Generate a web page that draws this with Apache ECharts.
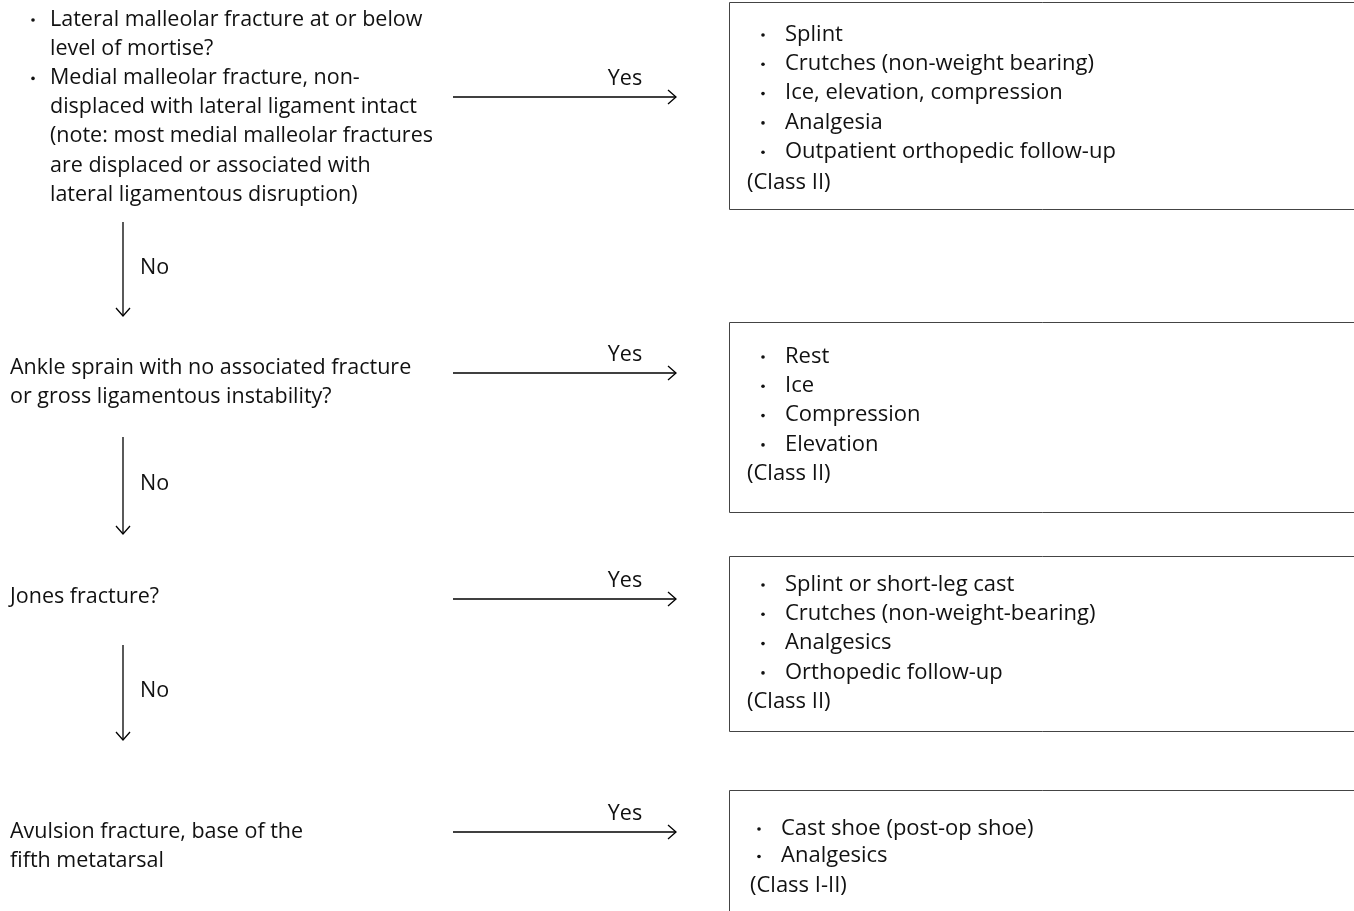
<!DOCTYPE html>
<html><head><meta charset="utf-8">
<script src="https://cdn.jsdelivr.net/npm/echarts@6/dist/echarts.min.js"></script>
<style>html,body{margin:0;padding:0;background:#fff}#c{width:1354px;height:911px}</style>
</head><body><div id="c"></div>
<script>
// ---- content ----
const questions = [
  [
    { bullet: true, text: 'Lateral malleolar fracture at or below' },
    { bullet: false, text: 'level of mortise?' },
    { bullet: true, text: 'Medial malleolar fracture, non-' },
    { bullet: false, text: 'displaced with lateral ligament intact' },
    { bullet: false, text: '(note: most medial malleolar fractures' },
    { bullet: false, text: 'are displaced or associated with' },
    { bullet: false, text: 'lateral ligamentous disruption)' }
  ],
  [
    { bullet: false, text: 'Ankle sprain with no associated fracture' },
    { bullet: false, text: 'or gross ligamentous instability?' }
  ],
  [
    { bullet: false, text: 'Jones fracture?' }
  ],
  [
    { bullet: false, text: 'Avulsion fracture, base of the' },
    { bullet: false, text: 'fifth metatarsal' }
  ]
];
const treatments = [
  ['Splint', 'Crutches (non-weight bearing)', 'Ice, elevation, compression', 'Analgesia', 'Outpatient orthopedic follow-up'],
  ['Rest', 'Ice', 'Compression', 'Elevation'],
  ['Splint or short-leg cast', 'Crutches (non-weight-bearing)', 'Analgesics', 'Orthopedic follow-up'],
  ['Cast shoe (post-op shoe)', 'Analgesics']
];
const classes = ['(Class II)', '(Class II)', '(Class II)', '(Class I-II)'];
const yesLabel = 'Yes';
const noLabel = 'No';

// ---- layout (pixel-like coordinates on hidden axes) ----
const W = 1354, H = 911;
const layout = {
  qFirstY: [18, 366, 595, 830], qX: [10, 10, 10, 10], lineH: 29.2,
  yesY: [97, 373, 599, 832], yesX0: 453, yesX1: 676, yesLabelX: 625,
  noX: 123, noY0: [222, 437, 645], noY1: [316, 534, 740], noLabelY: [266, 482, 689],
  boxX: 729, boxTop: [2, 322, 556, 790], boxBottom: [209, 512, 731, 930],
  tFirstY: [33, 355, 583, 827], tStep: [29.3, 29.3, 29.3, 27.5],
  classGap: [31, 29, 29, 30],
  bulletX: [763, 763, 763, 759], textX: [785, 785, 785, 781], classX: [747, 747, 747, 750],
  textDy: 1.5
};
const FONT = '21.5px "Open Sans", "Noto Sans", sans-serif';
const TFONT = '22px "Open Sans", "Noto Sans", sans-serif';
const INK = '#111';

function renderItem(params, api) {
  const i = api.value(0);
  const P = (x, y) => api.coord([x, y]);
  const ch = [];
  const txt = (s, x, y, font, align) => {
    const p = P(x, y + layout.textDy);
    ch.push({ type: 'text', silent: true, style: { text: s, x: p[0], y: p[1], font: font, fill: INK, align: align || 'left', verticalAlign: 'middle' } });
  };
  const bullet = (x, y) => {
    const p = P(x, y);
    ch.push({ type: 'circle', silent: true, shape: { cx: p[0], cy: p[1], r: 1.8 }, style: { fill: INK } });
  };
  const line = (pts, w) => {
    ch.push({ type: 'polyline', silent: true, shape: { points: pts.map(q => P(q[0], q[1])) }, style: { stroke: '#000', lineWidth: w || 1.3, fill: null } });
  };
  // question text
  const q = questions[i];
  q.forEach((ln, k) => {
    const y = layout.qFirstY[i] + k * layout.lineH;
    if (i === 0) {
      if (ln.bullet) bullet(33, y + 2);
      txt(ln.text, 50, y, FONT);
    } else {
      txt(ln.text, layout.qX[i], y, FONT);
    }
  });
  // yes arrow
  const ay = layout.yesY[i];
  line([[layout.yesX0, ay], [layout.yesX1, ay]]);
  line([[layout.yesX1 - 8, ay - 7], [layout.yesX1, ay], [layout.yesX1 - 8, ay + 7]]);
  txt(yesLabel, layout.yesLabelX, ay - 20, FONT, 'center');
  // no arrow
  if (i < questions.length - 1) {
    const x = layout.noX, y0 = layout.noY0[i], y1 = layout.noY1[i];
    line([[x, y0], [x, y1]]);
    line([[x - 7, y1 - 8], [x, y1], [x + 7, y1 - 8]]);
    txt(noLabel, 140, layout.noLabelY[i], FONT);
  }
  // box
  const b0 = P(layout.boxX, layout.boxTop[i]);
  const b1 = P(W + 20, layout.boxBottom[i]);
  ch.push({ type: 'rect', silent: true, shape: { x: b0[0] + 0.5, y: b0[1] + 0.5, width: b1[0] - b0[0], height: b1[1] - b0[1] }, style: { fill: null, stroke: '#444', lineWidth: 1 } });
  const items = treatments[i];
  items.forEach((s, k) => {
    const y = layout.tFirstY[i] + k * layout.tStep[i];
    bullet(layout.bulletX[i], y + 2);
    txt(s, layout.textX[i], y, TFONT);
  });
  const cy = layout.tFirstY[i] + (items.length - 1) * layout.tStep[i] + layout.classGap[i];
  txt(classes[i], layout.classX[i], cy, TFONT);
  return { type: 'group', children: ch };
}

const chart = echarts.init(document.getElementById('c'), null, { renderer: 'canvas' });
chart.setOption({
  animation: false,
  backgroundColor: '#fff',
  grid: { left: 0, right: 0, top: 0, bottom: 0 },
  xAxis: { type: 'value', min: 0, max: W, show: false },
  yAxis: { type: 'value', min: 0, max: H, inverse: true, show: false },
  series: [{
    type: 'custom',
    renderItem: renderItem,
    clip: false,
    encode: { x: 0, y: 1 },
    data: questions.map((_, i) => [i, 0])
  }]
});
</script>
</body></html>
